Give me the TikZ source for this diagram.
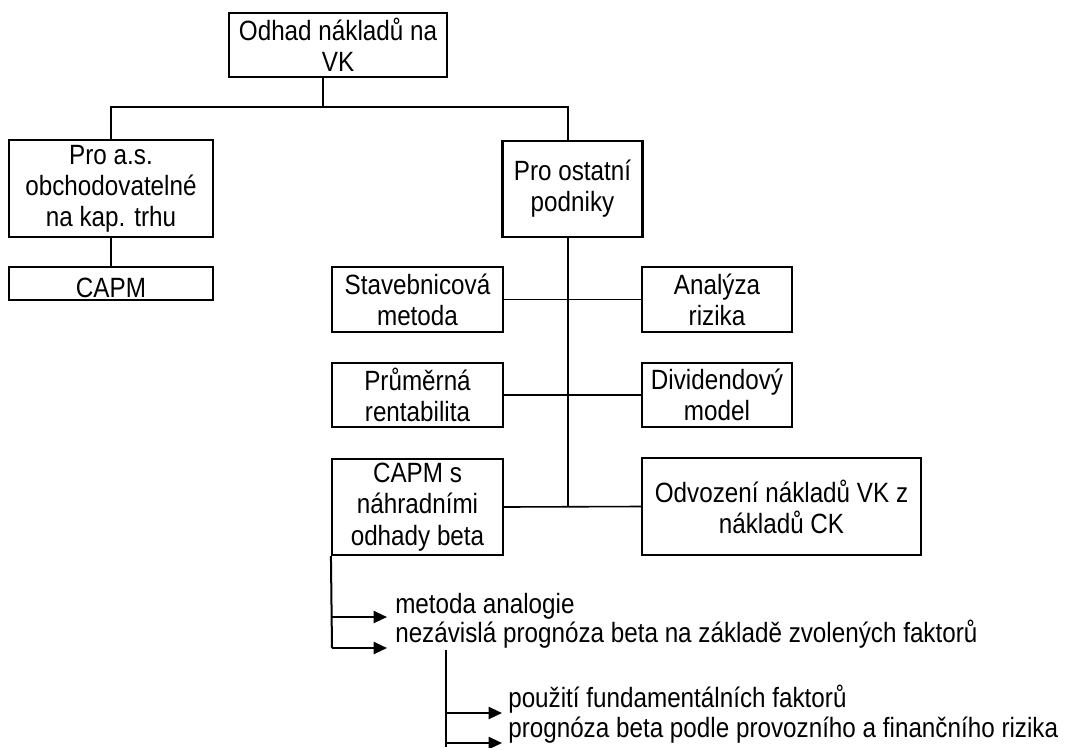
\documentclass[tikz,border=0pt]{standalone}
\usepackage{fontspec}
\setmainfont{Liberation Sans}[FakeStretch=0.87]
\usetikzlibrary{positioning}
\usetikzlibrary{arrows.meta}

\begin{document}
\begin{tikzpicture}[x=0.75pt,y=-0.75pt,
box/.style={draw,line width=1.6pt,inner sep=0pt,align=center,font=\fontsize{20.9}{23.4}\selectfont},
link/.style={line width=1.2pt},
pointer/.style={line width=1.5pt,-{Triangle[length=10pt,width=9pt]}},
item/.style={anchor=base west,inner sep=0pt,font=\fontsize{20.9}{22}\selectfont}]
\useasboundingbox (0,0) rectangle (1071,747);

\node (odhad) at (338,45) [box,minimum width=163.5pt,minimum height=48pt] {Odhad nákladů na\\VK};
\node (burza) at (111,188.5) [box,minimum width=153pt,minimum height=72.75pt] {Pro a.s.\\obchodovatelné\\na kap. trhu};
\node (ostatni) at (572.5,189) [box,minimum width=105pt,minimum height=72pt] {Pro ostatní\\podniky};
\node (capm) at (111,283.5) [box,minimum width=153pt,minimum height=24.75pt,text height=22pt,text depth=1.75pt] {CAPM};

\node (stav) at (417.5,299.5) [box,minimum width=128.25pt,minimum height=48.75pt] {Stavebnicová\\metoda};
\node (analyza) at (717,299.5) [box,minimum width=112.5pt,minimum height=48.75pt] {Analýza\\rizika};
\node (prum) at (417.5,395) [box,minimum width=128.25pt,minimum height=48pt] {Průměrná\\rentabilita};
\node (divid) at (717,395) [box,minimum width=112.5pt,minimum height=48pt] {Dividendový\\model};
\node (capms) at (417.5,507) [box,minimum width=128.25pt,minimum height=72pt] {CAPM s\\náhradními\\odhady beta};
\node (odvoz) at (781.5,506.5) [box,minimum width=209.25pt,minimum height=72.75pt] {Odvození nákladů VK z\\nákladů CK};

% tree
\coordinate (fork) at (323,107);
\coordinate (spine) at (568,107);
\draw[link] (odhad.south -| fork) -- (fork);
\draw[link] (burza.north) |- (spine) -- (spine |- ostatni.north);
\draw[link] (burza.south) -- (capm.north);
\draw[link] (spine |- ostatni.south) -- (spine |- capms.east);
\draw[link] (stav.east) -- (analyza.west);
\draw[link] (prum.east) -- (divid.west);
\draw[link] (capms.east) -- (odvoz.west);

% beta estimates
\node (m1) [item] at (395,613) {metoda analogie};
\node (m2) [item] at (395,642) {nezávislá prognóza beta na základě zvolených faktorů};
\coordinate (b1) at (332,617);
\coordinate (b2) at (332,648);
\draw[pointer, -] (capms.south west) -- (b2);
\draw[pointer] (b1) -- ([xshift=-6pt]b1 -| m1.west);
\draw[pointer] (b2) -- ([xshift=-6pt]b2 -| m2.west);

\node (f1) [item] at (508,707) {použití fundamentálních faktorů};
\node (f2) [item] at (508,737) {prognóza beta podle provozního a finančního rizika};
\coordinate (c0) at (446,650);
\coordinate (c1) at (446,713);
\coordinate (c2) at (446,743);
\draw[pointer, -] (c0) -- (446,747);
\draw[pointer] (c1) -- ([xshift=-4.5pt]c1 -| f1.west);
\draw[pointer] (c2) -- ([xshift=-4.5pt]c2 -| f2.west);
\end{tikzpicture}
\end{document}
